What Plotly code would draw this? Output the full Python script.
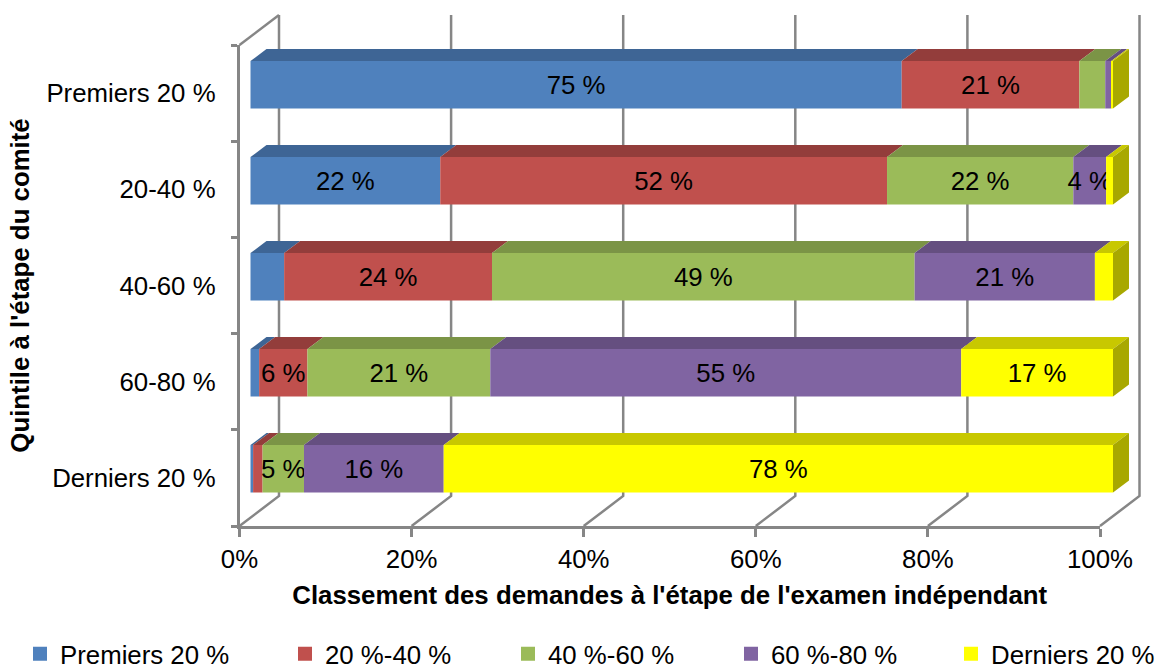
import plotly.graph_objects as go

categories = ["Derniers 20 %", "60-80 %", "40-60 %", "20-40 %", "Premiers 20 %"]
series_names = ["Premiers 20 %", "20 %-40 %", "40 %-60 %", "60 %-80 %", "Derniers 20 %"]
premiers = [0.3, 1.0, 3.9, 22.0, 75.5]
q20_40 = [1.1, 5.6, 24.1, 51.8, 20.6]
q40_60 = [4.8, 21.2, 49.0, 21.6, 3.0]
q60_80 = [16.2, 54.6, 20.9, 3.8, 0.7]
derniers = [77.6, 17.6, 2.1, 0.8, 0.2]
labels_premiers = ["", "", "", "22 %", "75 %"]
labels_20_40 = ["", "6 %", "24 %", "52 %", "21 %"]
labels_40_60 = ["5 %", "21 %", "49 %", "22 %", ""]
labels_60_80 = ["16 %", "55 %", "21 %", "4 %", ""]
labels_derniers = ["78 %", "17 %", "", "", ""]
x_ticks = [0, 20, 40, 60, 80, 100]

series = [premiers, q20_40, q40_60, q60_80, derniers]
labels = [labels_premiers, labels_20_40, labels_40_60, labels_60_80, labels_derniers]
face = ["#4F81BD", "#C0504D", "#9BBB59", "#8064A2", "#FFFF00"]
top = ["#3E6595", "#933D3B", "#7B9446", "#654F80", "#C8C800"]
side = "#A8A800"
grid = "#868686"
FONT = "Liberation Sans"
FS = 25.8

W, H = 1156, 668
# front plane of the chart, in pixels
FX0, FX1, FY0, FY1 = 239.5, 1100, 526, 45
# depth of the back wall and of the bars, in pixels
WALL_DX, WALL_DY = 39.5, 30
BAR_DX, BAR_DY = 16, 12
# bars: pixel placement
BX0, BX1, B_ROW0, B_STEP, B_H = 250.5, 1113, 468.75, 96, 47.5

px_per_pct = (FX1 - FX0) / 100
px_per_row = (FY0 - FY1) / len(categories)
bar_px_pct = (BX1 - BX0) / 100
rows = list(range(len(categories)))

fig = go.Figure()

# back wall and floor lines (axes x2/y2 share the front plane's scale, over the whole figure)
wdx = WALL_DX / px_per_pct
wdy = WALL_DY / px_per_row
n = len(categories)
gx, gy = [0, wdx], [n, n + wdy]
gx += [None]
gy += [None]
for t in x_ticks:
    gx += [t, t + wdx, t + wdx, None]
    gy += [0, wdy, n + wdy, None]
fig.add_trace(go.Scatter(x=gx, y=gy, mode="lines", line=dict(color=grid, width=2.5),
                         hoverinfo="skip", showlegend=False, xaxis="x2", yaxis="y2"))

# bars (axes x3/y3, covering the whole figure)
bdx = BAR_DX / bar_px_pct
bdy = BAR_DY / B_STEP
bh = B_H / B_STEP
for i, (name, vals) in enumerate(zip(series_names, series)):
    base = [sum(s[r] for s in series[:i]) for r in rows]
    fig.add_trace(go.Bar(
        x=vals, y=rows, base=base, orientation="h", width=bh, name=name,
        marker=dict(color=face[i], line=dict(width=0)),
        text=labels[i], textposition="inside", insidetextanchor="middle",
        constraintext="none", textangle=0, cliponaxis=False,
        insidetextfont=dict(family=FONT, size=FS, color="black"),
        xaxis="x3", yaxis="y3", showlegend=False,
    ))
    px, py = [], []
    for r in rows:
        a, b = base[r], base[r] + vals[r]
        yt = r + bh / 2
        px += [a, b, b + bdx, a + bdx, a, None]
        py += [yt, yt, yt + bdy, yt + bdy, yt, None]
    fig.add_trace(go.Scatter(x=px, y=py, mode="lines", fill="toself", fillcolor=top[i],
                             line=dict(width=0), hoverinfo="skip", showlegend=False,
                             xaxis="x3", yaxis="y3"))

# right end faces
totals = [sum(s[r] for s in series) for r in rows]
sx, sy = [], []
for r in rows:
    e = totals[r]
    yt, yb = r + bh / 2, r - bh / 2
    sx += [e, e + bdx, e + bdx, e, e, None]
    sy += [yt, yt + bdy, yb + bdy, yb, yt, None]
fig.add_trace(go.Scatter(x=sx, y=sy, mode="lines", fill="toself", fillcolor=side,
                         line=dict(width=0), hoverinfo="skip", showlegend=False,
                         xaxis="x3", yaxis="y3"))

# legend: one native legend per series, so that each can be placed
legend_x = [20, 285, 508, 731, 951]
layout_legends = {}
for i, name in enumerate(series_names):
    key = "legend" if i == 0 else f"legend{i + 1}"
    fig.add_trace(go.Scatter(x=[None], y=[None], mode="markers", name=name,
                             marker=dict(symbol="square", size=14, color=face[i]),
                             legend=key, showlegend=True))
    layout_legends[key] = dict(x=legend_x[i] / W, y=(H - 654) / H, xanchor="left", yanchor="middle",
                               bgcolor="rgba(0,0,0,0)", borderwidth=0,
                               font=dict(family=FONT, size=FS, color="black"))

fig.update_layout(
    width=W, height=H, margin=dict(l=0, r=0, t=0, b=0, autoexpand=False),
    paper_bgcolor="white", plot_bgcolor="rgba(0,0,0,0)",
    barmode="overlay",
    font=dict(family=FONT, size=FS, color="black"),
    xaxis=dict(domain=[FX0 / W, FX1 / W], range=[0, 100], tickvals=x_ticks,
               ticktext=[f"{t}%" for t in x_ticks], ticks="outside", ticklen=8, tickwidth=2.5,
               tickcolor=grid, showline=True, linecolor=grid, linewidth=2.5, showgrid=False,
               zeroline=False, anchor="y",
               title=dict(text="<b>Classement des demandes à l'étape de l'examen indépendant</b>",
                          font=dict(family=FONT, size=FS), standoff=15)),
    yaxis=dict(domain=[(H - FY0) / H, (H - FY1) / H], range=[0, n],
               tickvals=[r + 0.5 for r in rows], ticktext=categories, ticks="",
               ticklabelstandoff=16,
               minor=dict(tickvals=list(range(n + 1)), ticks="outside", ticklen=6, tickwidth=2.5,
                          tickcolor=grid, showgrid=False),
               showline=True, linecolor=grid, linewidth=2.5, showgrid=False, zeroline=False,
               anchor="x",
               title=dict(text="<b>Quintile à l'étape du comité</b>",
                          font=dict(family=FONT, size=FS), standoff=10)),
    xaxis2=dict(domain=[0, 1], range=[-FX0 / px_per_pct, (W - FX0) / px_per_pct], visible=False,
                anchor="y2"),
    yaxis2=dict(domain=[0, 1], range=[(FY0 - H) / px_per_row, FY0 / px_per_row], visible=False,
                anchor="x2"),
    xaxis3=dict(domain=[0, 1], range=[-BX0 / bar_px_pct, (W - BX0) / bar_px_pct], visible=False,
                anchor="y3"),
    yaxis3=dict(domain=[0, 1], range=[(B_ROW0 - H) / B_STEP, B_ROW0 / B_STEP], visible=False,
                anchor="x3"),
    **layout_legends,
)

fig.write_html("out.html", config=dict(displayModeBar=False),
               post_script="document.body.style.margin='0';document.body.style.overflow='hidden';")
